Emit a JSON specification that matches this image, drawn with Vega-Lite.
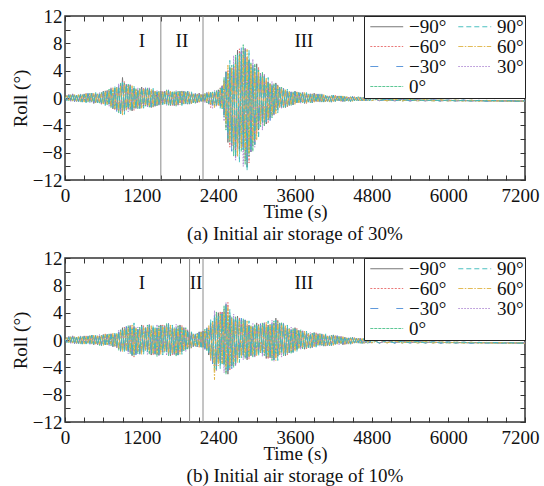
{
"$schema": "https://vega.github.io/schema/vega-lite/v6.json",
"padding": {"left": 10, "top": 6, "right": 2, "bottom": 0},
"spacing": 3,
"resolve": {"scale": {"color": "independent", "strokeDash": "independent"}, "legend": {"color": "independent", "strokeDash": "independent"}},
"config": {
  "font": "Liberation Serif",
  "view": {"stroke": "#333", "strokeWidth": 1.5},
  "axis": {"labelFont": "Liberation Serif", "labelFontSize": 19, "labelColor": "#111", "titleFont": "Liberation Serif", "titleFontSize": 19, "titleFontWeight": "normal", "titleColor": "#111", "grid": false, "domain": false, "tickColor": "#333", "tickWidth": 1},
  "legend": {"orient": "top-right", "offset": 0, "title": null, "columns": 2, "fillColor": "white", "strokeColor": "#222", "padding": 1, "labelFont": "Liberation Serif", "labelFontSize": 19, "labelColor": "#111", "symbolType": "M-0.6,0H4.1", "symbolSize": 196, "symbolStrokeWidth": 1.2, "labelOffset": 25, "columnPadding": 6, "rowPadding": -1},
  "title": {"font": "Liberation Serif", "fontSize": 19, "fontWeight": "normal", "color": "#111"}
},
"datasets": {
"pa": [
{"t":0,"a":0.1,"b":-0.1,"c":0.1,"d":-0.1,"e":0.1,"f":-0.1,"g":0.1},
{"t":30,"a":-0.3,"b":0.4,"c":-0.3,"d":0.4,"e":-0.3,"f":0.3,"g":-0.4},
{"t":60,"a":0.5,"b":-0.4,"c":0.5,"d":-0.4,"e":0.5,"f":-0.4,"g":0.4},
{"t":90,"a":-0.4,"b":0.5,"c":-0.4,"d":0.5,"e":-0.5,"f":0.4,"g":-0.4},
{"t":120,"a":0.6,"b":-0.5,"c":0.5,"d":-0.5,"e":0.6,"f":-0.4,"g":0.6},
{"t":150,"a":-0.5,"b":0.4,"c":-0.5,"d":0.4,"e":-0.4,"f":0.5,"g":-0.5},
{"t":180,"a":0.4,"b":-0.5,"c":0.4,"d":-0.5,"e":0.4,"f":-0.4,"g":0.5},
{"t":210,"a":-0.5,"b":0.4,"c":-0.6,"d":0.5,"e":-0.5,"f":0.5,"g":-0.5},
{"t":240,"a":0.4,"b":-0.5,"c":0.5,"d":-0.6,"e":0.6,"f":-0.5,"g":0.5},
{"t":270,"a":-0.6,"b":0.5,"c":-0.5,"d":0.5,"e":-0.6,"f":0.4,"g":-0.6},
{"t":300,"a":0.6,"b":-0.5,"c":0.5,"d":-0.4,"e":0.5,"f":-0.6,"g":0.5},
{"t":330,"a":-0.6,"b":0.7,"c":-0.5,"d":0.6,"e":-0.5,"f":0.6,"g":-0.7},
{"t":360,"a":0.6,"b":-0.5,"c":0.7,"d":-0.6,"e":0.6,"f":-0.5,"g":0.6},
{"t":390,"a":-0.5,"b":0.6,"c":-0.6,"d":0.7,"e":-0.7,"f":0.6,"g":-0.5},
{"t":420,"a":0.7,"b":-0.6,"c":0.5,"d":-0.6,"e":0.7,"f":-0.5,"g":0.7},
{"t":450,"a":-0.8,"b":0.6,"c":-0.7,"d":0.6,"e":-0.7,"f":0.8,"g":-0.7},
{"t":480,"a":0.6,"b":-0.8,"c":0.6,"d":-0.7,"e":0.6,"f":-0.7,"g":0.8},
{"t":510,"a":-0.7,"b":0.6,"c":-0.8,"d":0.6,"e":-0.7,"f":0.6,"g":-0.7},
{"t":540,"a":0.6,"b":-0.7,"c":0.6,"d":-0.8,"e":0.8,"f":-0.6,"g":0.6},
{"t":570,"a":-0.9,"b":0.8,"c":-0.7,"d":0.8,"e":-0.9,"f":0.6,"g":-0.9},
{"t":600,"a":1.0,"b":-0.8,"c":0.9,"d":-0.7,"e":0.9,"f":-1.0,"g":0.9},
{"t":630,"a":-0.9,"b":1.1,"c":-0.8,"d":1.0,"e":-0.8,"f":0.9,"g":-1.1},
{"t":660,"a":1.1,"b":-0.8,"c":1.2,"d":-1.0,"e":1.1,"f":-0.9,"g":1.0},
{"t":690,"a":-0.9,"b":1.2,"c":-1.0,"d":1.3,"e":-1.2,"f":1.0,"g":-1.0},
{"t":720,"a":1.4,"b":-1.3,"c":1.1,"d":-1.4,"e":1.5,"f":-1.1,"g":1.4},
{"t":750,"a":-1.6,"b":1.3,"c":-1.4,"d":1.1,"e":-1.4,"f":1.5,"g":-1.4},
{"t":780,"a":1.4,"b":-1.8,"c":1.3,"d":-1.6,"e":1.4,"f":-1.5,"g":1.8},
{"t":810,"a":-1.8,"b":1.4,"c":-2.0,"d":1.6,"e":-1.8,"f":1.5,"g":-1.7},
{"t":840,"a":1.5,"b":-2.0,"c":1.8,"d":-2.2,"e":2.1,"f":-1.8,"g":1.7},
{"t":870,"a":-2.3,"b":2.0,"c":-1.8,"d":2.2,"e":-2.4,"f":1.7,"g":-2.3},
{"t":900,"a":3.0,"b":-2.1,"c":2.3,"d":-1.8,"e":2.2,"f":-2.5,"g":2.3},
{"t":930,"a":-1.9,"b":2.4,"c":-1.7,"d":2.2,"e":-1.8,"f":2.0,"g":-2.4},
{"t":960,"a":2.0,"b":-1.5,"c":2.2,"d":-1.8,"e":2.0,"f":-1.7,"g":1.9},
{"t":990,"a":-1.5,"b":1.9,"c":-1.7,"d":2.1,"e":-2.0,"f":1.7,"g":-1.6},
{"t":1020,"a":1.9,"b":-1.7,"c":1.5,"d":-1.8,"e":2.0,"f":-1.4,"g":1.9},
{"t":1050,"a":-1.9,"b":1.5,"c":-1.7,"d":1.3,"e":-1.6,"f":1.8,"g":-1.7},
{"t":1080,"a":1.4,"b":-1.8,"c":1.3,"d":-1.6,"e":1.4,"f":-1.5,"g":1.8},
{"t":1110,"a":-1.5,"b":1.2,"c":-1.7,"d":1.4,"e":-1.5,"f":1.3,"g":-1.4},
{"t":1140,"a":1.1,"b":-1.4,"c":1.3,"d":-1.6,"e":1.5,"f":-1.3,"g":1.2},
{"t":1170,"a":-1.5,"b":1.4,"c":-1.2,"d":1.4,"e":-1.6,"f":1.1,"g":-1.5},
{"t":1200,"a":1.6,"b":-1.3,"c":1.4,"d":-1.1,"e":1.4,"f":-1.5,"g":1.4},
{"t":1230,"a":-1.2,"b":1.5,"c":-1.1,"d":1.4,"e":-1.1,"f":1.3,"g":-1.5},
{"t":1260,"a":1.4,"b":-1.1,"c":1.5,"d":-1.2,"e":1.4,"f":-1.1,"g":1.3},
{"t":1290,"a":-1.1,"b":1.4,"c":-1.2,"d":1.5,"e":-1.4,"f":1.2,"g":-1.1},
{"t":1320,"a":1.4,"b":-1.3,"c":1.1,"d":-1.4,"e":1.5,"f":-1.1,"g":1.4},
{"t":1350,"a":-1.4,"b":1.1,"c":-1.3,"d":1.0,"e":-1.2,"f":1.3,"g":-1.3},
{"t":1380,"a":1.1,"b":-1.4,"c":1.0,"d":-1.3,"e":1.1,"f":-1.2,"g":1.4},
{"t":1410,"a":-1.2,"b":0.9,"c":-1.3,"d":1.0,"e":-1.2,"f":1.0,"g":-1.1},
{"t":1440,"a":0.8,"b":-1.1,"c":1.0,"d":-1.2,"e":1.1,"f":-1.0,"g":0.9},
{"t":1470,"a":-1.0,"b":0.9,"c":-0.8,"d":1.0,"e":-1.1,"f":0.8,"g":-1.0},
{"t":1500,"a":1.0,"b":-0.8,"c":0.9,"d":-0.7,"e":0.9,"f":-1.0,"g":0.9},
{"t":1530,"a":-0.8,"b":1.0,"c":-0.7,"d":0.9,"e":-0.8,"f":0.9,"g":-1.0},
{"t":1560,"a":1.0,"b":-0.8,"c":1.1,"d":-0.9,"e":1.0,"f":-0.8,"g":0.9},
{"t":1590,"a":-0.8,"b":1.1,"c":-1.0,"d":1.2,"e":-1.1,"f":1.0,"g":-0.9},
{"t":1620,"a":1.1,"b":-1.0,"c":0.9,"d":-1.1,"e":1.2,"f":-0.8,"g":1.1},
{"t":1650,"a":-1.1,"b":0.9,"c":-1.0,"d":0.8,"e":-0.9,"f":1.0,"g":-1.0},
{"t":1680,"a":0.9,"b":-1.1,"c":0.8,"d":-1.0,"e":0.8,"f":-0.9,"g":1.1},
{"t":1710,"a":-1.1,"b":0.8,"c":-1.2,"d":1.0,"e":-1.1,"f":0.9,"g":-1.0},
{"t":1740,"a":0.8,"b":-1.1,"c":1.0,"d":-1.2,"e":1.1,"f":-1.0,"g":0.9},
{"t":1770,"a":-1.0,"b":0.9,"c":-0.8,"d":1.0,"e":-1.1,"f":0.8,"g":-1.0},
{"t":1800,"a":1.0,"b":-0.8,"c":0.9,"d":-0.7,"e":0.9,"f":-1.0,"g":0.9},
{"t":1830,"a":-0.9,"b":1.1,"c":-0.8,"d":1.0,"e":-0.8,"f":0.9,"g":-1.1},
{"t":1860,"a":1.0,"b":-0.8,"c":1.1,"d":-0.9,"e":1.0,"f":-0.8,"g":0.9},
{"t":1890,"a":-0.7,"b":0.9,"c":-0.8,"d":1.0,"e":-1.0,"f":0.8,"g":-0.8},
{"t":1920,"a":1.0,"b":-0.9,"c":0.8,"d":-0.9,"e":1.0,"f":-0.7,"g":1.0},
{"t":1950,"a":-0.9,"b":0.7,"c":-0.8,"d":0.6,"e":-0.8,"f":0.9,"g":-0.8},
{"t":1980,"a":0.7,"b":-0.9,"c":0.6,"d":-0.8,"e":0.7,"f":-0.8,"g":0.9},
{"t":2010,"a":-0.7,"b":0.6,"c":-0.8,"d":0.6,"e":-0.7,"f":0.6,"g":-0.7},
{"t":2040,"a":0.6,"b":-0.7,"c":0.6,"d":-0.8,"e":0.8,"f":-0.6,"g":0.6},
{"t":2070,"a":-0.7,"b":0.6,"c":-0.5,"d":0.6,"e":-0.7,"f":0.5,"g":-0.7},
{"t":2100,"a":0.7,"b":-0.6,"c":0.6,"d":-0.5,"e":0.6,"f":-0.7,"g":0.6},
{"t":2130,"a":-0.5,"b":0.6,"c":-0.4,"d":0.5,"e":-0.5,"f":0.5,"g":-0.6},
{"t":2160,"a":0.5,"b":-0.4,"c":0.6,"d":-0.5,"e":0.5,"f":-0.5,"g":0.5},
{"t":2190,"a":-0.5,"b":0.6,"c":-0.6,"d":0.7,"e":-0.7,"f":0.6,"g":-0.5},
{"t":2220,"a":0.8,"b":-0.7,"c":0.6,"d":-0.7,"e":0.8,"f":-0.6,"g":0.8},
{"t":2250,"a":-0.9,"b":0.7,"c":-0.8,"d":0.6,"e":-0.8,"f":0.9,"g":-0.8},
{"t":2280,"a":0.8,"b":-1.4,"c":0.7,"d":-0.9,"e":0.8,"f":-0.9,"g":1.0},
{"t":2310,"a":-1.0,"b":0.8,"c":-1.1,"d":0.9,"e":-1.5,"f":0.8,"g":-1.0},
{"t":2340,"a":0.8,"b":-1.1,"c":1.0,"d":-1.2,"e":1.1,"f":-1.4,"g":0.9},
{"t":2370,"a":-1.1,"b":1.0,"c":-0.9,"d":1.1,"e":-1.2,"f":0.8,"g":-1.1},
{"t":2400,"a":1.2,"b":-1.0,"c":1.1,"d":-0.8,"e":1.0,"f":-1.1,"g":1.1},
{"t":2430,"a":-1.2,"b":1.5,"c":-1.1,"d":1.4,"e":-1.1,"f":1.3,"g":-1.5},
{"t":2460,"a":1.8,"b":-1.4,"c":2.0,"d":-1.6,"e":1.8,"f":-1.5,"g":1.7},
{"t":2490,"a":-2.5,"b":2.7,"c":-2.9,"d":3.0,"e":-3.4,"f":2.4,"g":-2.7},
{"t":2520,"a":3.8,"b":-4.4,"c":3.0,"d":-4.7,"e":4.0,"f":-3.6,"g":3.8},
{"t":2550,"a":-6.5,"b":4.0,"c":-5.9,"d":3.5,"e":-5.5,"f":4.8,"g":-5.9},
{"t":2580,"a":4.4,"b":-7.2,"c":3.9,"d":-6.4,"e":4.1,"f":-6.1,"g":5.5},
{"t":2610,"a":-7.0,"b":4.2,"c":-7.8,"d":4.8,"e":-7.0,"f":4.5,"g":-6.6},
{"t":2640,"a":4.6,"b":-7.6,"c":5.2,"d":-8.5,"e":6.2,"f":-6.8,"g":4.9},
{"t":2670,"a":-8.6,"b":6.0,"c":-6.8,"d":6.3,"e":-9.1,"f":4.9,"g":-8.6},
{"t":2700,"a":7.0,"b":-7.3,"c":6.3,"d":-6.4,"e":6.0,"f":-8.6,"g":6.3},
{"t":2730,"a":-7.5,"b":7.2,"c":-6.6,"d":6.5,"e":-7.0,"f":6.1,"g":-9.4},
{"t":2760,"a":6.8,"b":-6.8,"c":7.5,"d":-7.8,"e":6.8,"f":-7.3,"g":6.4},
{"t":2790,"a":-7.1,"b":7.0,"c":-8.4,"d":7.8,"e":-10.0,"f":6.2,"g":-7.6},
{"t":2820,"a":7.2,"b":-9.2,"c":6.0,"d":-9.7,"e":7.4,"f":-7.6,"g":7.0},
{"t":2850,"a":-10.1,"b":6.0,"c":-9.1,"d":5.3,"e":-8.6,"f":7.1,"g":-10.6},
{"t":2880,"a":5.6,"b":-9.5,"c":4.9,"d":-8.5,"e":5.3,"f":-8.0,"g":7.0},
{"t":2910,"a":-7.9,"b":4.6,"c":-8.8,"d":5.2,"e":-7.9,"f":4.9,"g":-7.5},
{"t":2940,"a":4.2,"b":-7.0,"c":4.8,"d":-7.8,"e":5.7,"f":-6.2,"g":4.5},
{"t":2970,"a":-6.8,"b":4.7,"c":-5.4,"d":5.0,"e":-7.2,"f":3.9,"g":-6.8},
{"t":3000,"a":5.0,"b":-5.2,"c":4.5,"d":-4.6,"e":4.3,"f":-6.2,"g":4.5},
{"t":3030,"a":-4.7,"b":4.5,"c":-4.1,"d":4.1,"e":-4.4,"f":3.8,"g":-5.9},
{"t":3060,"a":3.6,"b":-3.6,"c":4.0,"d":-4.2,"e":3.6,"f":-3.9,"g":3.4},
{"t":3090,"a":-3.4,"b":3.4,"c":-4.0,"d":3.8,"e":-4.7,"f":3.0,"g":-3.7},
{"t":3120,"a":3.3,"b":-3.9,"c":2.6,"d":-4.1,"e":3.5,"f":-3.2,"g":3.3},
{"t":3150,"a":-3.8,"b":2.6,"c":-3.5,"d":2.2,"e":-3.3,"f":3.0,"g":-3.5},
{"t":3180,"a":2.4,"b":-3.6,"c":2.1,"d":-3.2,"e":2.3,"f":-3.0,"g":3.0},
{"t":3210,"a":-2.9,"b":2.0,"c":-3.3,"d":2.2,"e":-2.9,"f":2.1,"g":-2.7},
{"t":3240,"a":1.8,"b":-2.6,"c":2.0,"d":-2.9,"e":2.4,"f":-2.3,"g":1.9},
{"t":3270,"a":-2.4,"b":2.0,"c":-1.9,"d":2.1,"e":-2.6,"f":1.6,"g":-2.4},
{"t":3300,"a":2.2,"b":-2.0,"c":2.0,"d":-1.7,"e":1.9,"f":-2.3,"g":2.0},
{"t":3330,"a":-1.7,"b":2.0,"c":-1.5,"d":1.8,"e":-1.6,"f":1.7,"g":-2.2},
{"t":3360,"a":1.6,"b":-1.3,"c":1.8,"d":-1.4,"e":1.6,"f":-1.4,"g":1.5},
{"t":3390,"a":-1.2,"b":1.4,"c":-1.4,"d":1.6,"e":-1.6,"f":1.3,"g":-1.3},
{"t":3420,"a":1.4,"b":-1.3,"c":1.1,"d":-1.4,"e":1.5,"f":-1.1,"g":1.4},
{"t":3450,"a":-1.4,"b":1.1,"c":-1.3,"d":1.0,"e":-1.2,"f":1.3,"g":-1.3},
{"t":3480,"a":1.0,"b":-1.3,"c":0.9,"d":-1.2,"e":1.0,"f":-1.1,"g":1.3},
{"t":3510,"a":-1.1,"b":0.8,"c":-1.2,"d":1.0,"e":-1.1,"f":0.9,"g":-1.0},
{"t":3540,"a":0.8,"b":-1.0,"c":0.9,"d":-1.1,"e":1.0,"f":-0.9,"g":0.8},
{"t":3570,"a":-1.0,"b":0.9,"c":-0.8,"d":0.9,"e":-1.0,"f":0.7,"g":-1.0},
{"t":3600,"a":1.0,"b":-0.8,"c":0.9,"d":-0.7,"e":0.9,"f":-1.0,"g":0.9},
{"t":3630,"a":-0.7,"b":0.9,"c":-0.6,"d":0.8,"e":-0.7,"f":0.8,"g":-0.9},
{"t":3660,"a":0.8,"b":-0.6,"c":0.9,"d":-0.7,"e":0.8,"f":-0.7,"g":0.8},
{"t":3690,"a":-0.6,"b":0.7,"c":-0.6,"d":0.8,"e":-0.8,"f":0.6,"g":-0.6},
{"t":3720,"a":0.8,"b":-0.7,"c":0.6,"d":-0.7,"e":0.8,"f":-0.6,"g":0.8},
{"t":3750,"a":-0.8,"b":0.6,"c":-0.7,"d":0.6,"e":-0.7,"f":0.8,"g":-0.7},
{"t":3780,"a":0.6,"b":-0.8,"c":0.6,"d":-0.7,"e":0.6,"f":-0.7,"g":0.8},
{"t":3810,"a":-0.6,"b":0.5,"c":-0.7,"d":0.6,"e":-0.6,"f":0.5,"g":-0.6},
{"t":3840,"a":0.5,"b":-0.6,"c":0.6,"d":-0.7,"e":0.7,"f":-0.6,"g":0.5},
{"t":3870,"a":-0.7,"b":0.6,"c":-0.5,"d":0.6,"e":-0.7,"f":0.5,"g":-0.7},
{"t":3900,"a":0.7,"b":-0.6,"c":0.6,"d":-0.5,"e":0.6,"f":-0.7,"g":0.6},
{"t":3930,"a":-0.5,"b":0.6,"c":-0.4,"d":0.5,"e":-0.5,"f":0.5,"g":-0.6},
{"t":3960,"a":0.5,"b":-0.5,"c":0.6,"d":-0.5,"e":0.5,"f":-0.5,"g":0.5},
{"t":3990,"a":-0.5,"b":0.5,"c":-0.5,"d":0.6,"e":-0.6,"f":0.4,"g":-0.5},
{"t":4020,"a":0.5,"b":-0.6,"c":0.4,"d":-0.6,"e":0.6,"f":-0.5,"g":0.5},
{"t":4050,"a":-0.6,"b":0.4,"c":-0.5,"d":0.3,"e":-0.5,"f":0.5,"g":-0.5},
{"t":4080,"a":0.3,"b":-0.6,"c":0.3,"d":-0.5,"e":0.3,"f":-0.5,"g":0.4},
{"t":4110,"a":-0.5,"b":0.3,"c":-0.6,"d":0.3,"e":-0.5,"f":0.3,"g":-0.5},
{"t":4140,"a":0.3,"b":-0.5,"c":0.3,"d":-0.6,"e":0.4,"f":-0.5,"g":0.3},
{"t":4170,"a":-0.6,"b":0.3,"c":-0.5,"d":0.4,"e":-0.6,"f":0.3,"g":-0.6},
{"t":4200,"a":0.4,"b":-0.5,"c":0.4,"d":-0.4,"e":0.3,"f":-0.6,"g":0.4},
{"t":4230,"a":-0.5,"b":0.4,"c":-0.4,"d":0.3,"e":-0.4,"f":0.3,"g":-0.5},
{"t":4260,"a":0.3,"b":-0.4,"c":0.3,"d":-0.4,"e":0.3,"f":-0.4,"g":0.3},
{"t":4290,"a":-0.4,"b":0.3,"c":-0.4,"d":0.3,"e":-0.5,"f":0.2,"g":-0.4},
{"t":4320,"a":0.3,"b":-0.5,"c":0.2,"d":-0.5,"e":0.3,"f":-0.4,"g":0.3},
{"t":4350,"a":-0.5,"b":0.2,"c":-0.5,"d":0.2,"e":-0.4,"f":0.3,"g":-0.5},
{"t":4380,"a":0.2,"b":-0.5,"c":0.2,"d":-0.5,"e":0.2,"f":-0.4,"g":0.3},
{"t":4410,"a":-0.4,"b":0.1,"c":-0.5,"d":0.2,"e":-0.4,"f":0.2,"g":-0.4},
{"t":4440,"a":0.1,"b":-0.4,"c":0.2,"d":-0.5,"e":0.2,"f":-0.4,"g":0.1},
{"t":4470,"a":-0.5,"b":0.2,"c":-0.4,"d":0.2,"e":-0.5,"f":0.1,"g":-0.5},
{"t":4500,"a":0.2,"b":-0.4,"c":0.2,"d":-0.4,"e":0.2,"f":-0.5,"g":0.2},
{"t":4530,"a":-0.4,"b":0.2,"c":-0.3,"d":0.1,"e":-0.4,"f":0.1,"g":-0.4},
{"t":4560,"a":0.1,"b":-0.3,"c":0.2,"d":-0.4,"e":0.1,"f":-0.4,"g":0.1},
{"t":4590,"a":-0.4,"b":0.1,"c":-0.4,"d":0.2,"e":-0.4,"f":0.1,"g":-0.4},
{"t":4620,"a":0.1,"b":-0.4,"c":0.1,"d":-0.4,"e":0.2,"f":-0.4,"g":0.1},
{"t":4650,"a":-0.4,"b":0.1,"c":-0.4,"d":0.1,"e":-0.4,"f":0.1,"g":-0.4},
{"t":4680,"a":0.1,"b":-0.45,"c":0.05,"d":-0.4,"e":0.1,"f":-0.4,"g":0.15},
{"t":4710,"a":-0.4,"b":0.05,"c":-0.4,"d":0.05,"e":-0.4,"f":0.05,"g":-0.35},
{"t":4740,"a":0.0,"b":-0.4,"c":0.05,"d":-0.4,"e":0.1,"f":-0.35,"g":0.0},
{"t":4770,"a":-0.4,"b":0.05,"c":-0.35,"d":0.05,"e":-0.4,"f":0.0,"g":-0.4},
{"t":4800,"a":0.1,"b":-0.36,"c":0.06,"d":-0.34,"e":0.05,"f":-0.4,"g":0.06},
{"t":4920,"a":-0.4,"b":-0.1,"c":-0.4,"d":-0.1,"e":-0.4,"f":-0.1,"g":-0.4},
{"t":5040,"a":-0.13,"b":-0.41,"c":-0.13,"d":-0.41,"e":-0.13,"f":-0.41,"g":-0.13},
{"t":5160,"a":-0.42,"b":-0.16,"c":-0.42,"d":-0.16,"e":-0.42,"f":-0.16,"g":-0.42},
{"t":5280,"a":-0.18,"b":-0.42,"c":-0.18,"d":-0.42,"e":-0.18,"f":-0.42,"g":-0.18},
{"t":5400,"a":-0.42,"b":-0.2,"c":-0.42,"d":-0.2,"e":-0.42,"f":-0.2,"g":-0.42},
{"t":5520,"a":-0.22,"b":-0.42,"c":-0.22,"d":-0.42,"e":-0.22,"f":-0.42,"g":-0.22},
{"t":5640,"a":-0.42,"b":-0.24,"c":-0.42,"d":-0.24,"e":-0.42,"f":-0.24,"g":-0.42},
{"t":5760,"a":-0.26,"b":-0.42,"c":-0.26,"d":-0.42,"e":-0.26,"f":-0.42,"g":-0.26},
{"t":5880,"a":-0.43,"b":-0.27,"c":-0.43,"d":-0.27,"e":-0.43,"f":-0.27,"g":-0.43},
{"t":6000,"a":-0.29,"b":-0.43,"c":-0.29,"d":-0.43,"e":-0.29,"f":-0.43,"g":-0.29},
{"t":6120,"a":-0.44,"b":-0.3,"c":-0.44,"d":-0.3,"e":-0.44,"f":-0.3,"g":-0.44},
{"t":6240,"a":-0.32,"b":-0.44,"c":-0.32,"d":-0.44,"e":-0.32,"f":-0.44,"g":-0.32},
{"t":6360,"a":-0.45,"b":-0.33,"c":-0.45,"d":-0.33,"e":-0.45,"f":-0.33,"g":-0.45},
{"t":6480,"a":-0.35,"b":-0.45,"c":-0.35,"d":-0.45,"e":-0.35,"f":-0.45,"g":-0.35},
{"t":6600,"a":-0.45,"b":-0.35,"c":-0.45,"d":-0.35,"e":-0.45,"f":-0.35,"g":-0.45},
{"t":6720,"a":-0.36,"b":-0.46,"c":-0.36,"d":-0.46,"e":-0.36,"f":-0.46,"g":-0.36},
{"t":6840,"a":-0.46,"b":-0.38,"c":-0.46,"d":-0.38,"e":-0.46,"f":-0.38,"g":-0.46},
{"t":6960,"a":-0.39,"b":-0.47,"c":-0.39,"d":-0.47,"e":-0.39,"f":-0.47,"g":-0.39},
{"t":7080,"a":-0.47,"b":-0.41,"c":-0.47,"d":-0.41,"e":-0.47,"f":-0.41,"g":-0.47},
{"t":7200,"a":-0.42,"b":-0.48,"c":-0.42,"d":-0.48,"e":-0.42,"f":-0.48,"g":-0.42}
],
"pb": [
{"t":0,"a":0.1,"b":-0.1,"c":0.1,"d":-0.1,"e":0.1,"f":-0.1,"g":0.1},
{"t":30,"a":-0.3,"b":0.4,"c":-0.3,"d":0.4,"e":-0.3,"f":0.3,"g":-0.4},
{"t":60,"a":0.5,"b":-0.4,"c":0.5,"d":-0.4,"e":0.5,"f":-0.4,"g":0.4},
{"t":90,"a":-0.4,"b":0.5,"c":-0.4,"d":0.5,"e":-0.5,"f":0.4,"g":-0.4},
{"t":120,"a":0.6,"b":-0.5,"c":0.5,"d":-0.5,"e":0.6,"f":-0.4,"g":0.6},
{"t":150,"a":-0.5,"b":0.4,"c":-0.5,"d":0.4,"e":-0.4,"f":0.5,"g":-0.5},
{"t":180,"a":0.4,"b":-0.5,"c":0.4,"d":-0.5,"e":0.4,"f":-0.4,"g":0.5},
{"t":210,"a":-0.5,"b":0.4,"c":-0.6,"d":0.5,"e":-0.5,"f":0.5,"g":-0.5},
{"t":240,"a":0.4,"b":-0.5,"c":0.5,"d":-0.6,"e":0.6,"f":-0.5,"g":0.5},
{"t":270,"a":-0.6,"b":0.5,"c":-0.5,"d":0.5,"e":-0.6,"f":0.4,"g":-0.6},
{"t":300,"a":0.6,"b":-0.5,"c":0.5,"d":-0.4,"e":0.5,"f":-0.6,"g":0.5},
{"t":330,"a":-0.5,"b":0.6,"c":-0.4,"d":0.5,"e":-0.5,"f":0.5,"g":-0.6},
{"t":360,"a":0.5,"b":-0.4,"c":0.6,"d":-0.5,"e":0.5,"f":-0.5,"g":0.5},
{"t":390,"a":-0.5,"b":0.6,"c":-0.6,"d":0.7,"e":-0.7,"f":0.6,"g":-0.5},
{"t":420,"a":0.7,"b":-0.6,"c":0.5,"d":-0.6,"e":0.7,"f":-0.5,"g":0.7},
{"t":450,"a":-0.7,"b":0.6,"c":-0.6,"d":0.5,"e":-0.6,"f":0.7,"g":-0.6},
{"t":480,"a":0.6,"b":-0.7,"c":0.5,"d":-0.6,"e":0.5,"f":-0.6,"g":0.7},
{"t":510,"a":-0.7,"b":0.6,"c":-0.8,"d":0.6,"e":-0.7,"f":0.6,"g":-0.7},
{"t":540,"a":0.6,"b":-0.7,"c":0.6,"d":-0.8,"e":0.8,"f":-0.6,"g":0.6},
{"t":570,"a":-0.8,"b":0.7,"c":-0.6,"d":0.7,"e":-0.8,"f":0.6,"g":-0.8},
{"t":600,"a":0.8,"b":-0.6,"c":0.7,"d":-0.6,"e":0.7,"f":-0.8,"g":0.7},
{"t":630,"a":-0.7,"b":0.9,"c":-0.6,"d":0.8,"e":-0.7,"f":0.8,"g":-0.9},
{"t":660,"a":0.8,"b":-0.6,"c":0.9,"d":-0.7,"e":0.8,"f":-0.7,"g":0.8},
{"t":690,"a":-0.6,"b":0.8,"c":-0.7,"d":0.9,"e":-0.9,"f":0.7,"g":-0.7},
{"t":720,"a":0.9,"b":-0.8,"c":0.7,"d":-0.8,"e":0.9,"f":-0.6,"g":0.9},
{"t":750,"a":-1.0,"b":0.8,"c":-0.9,"d":0.7,"e":-0.9,"f":1.0,"g":-0.9},
{"t":780,"a":0.8,"b":-1.0,"c":0.7,"d":-0.9,"e":0.8,"f":-0.9,"g":1.0},
{"t":810,"a":-1.1,"b":0.8,"c":-1.2,"d":1.0,"e":-1.1,"f":0.9,"g":-1.0},
{"t":840,"a":1.1,"b":-1.4,"c":1.2,"d":-1.5,"e":1.4,"f":-1.2,"g":1.1},
{"t":870,"a":-1.6,"b":1.4,"c":-1.3,"d":1.5,"e":-1.7,"f":1.2,"g":-1.6},
{"t":900,"a":1.8,"b":-1.4,"c":1.6,"d":-1.3,"e":1.5,"f":-1.7,"g":1.6},
{"t":930,"a":-1.5,"b":1.9,"c":-1.3,"d":1.7,"e":-1.4,"f":1.6,"g":-1.9},
{"t":960,"a":1.8,"b":-1.4,"c":2.0,"d":-1.6,"e":1.8,"f":-1.5,"g":1.7},
{"t":990,"a":-1.5,"b":1.9,"c":-1.7,"d":2.1,"e":-2.0,"f":1.7,"g":-1.6},
{"t":1020,"a":2.1,"b":-1.9,"c":1.7,"d":-2.0,"e":2.2,"f":-1.5,"g":2.1},
{"t":1050,"a":-2.3,"b":1.8,"c":-2.1,"d":1.6,"e":-2.0,"f":2.2,"g":-2.1},
{"t":1080,"a":2.0,"b":-2.5,"c":1.8,"d":-2.3,"e":1.9,"f":-2.1,"g":2.5},
{"t":1110,"a":-2.0,"b":1.5,"c":-2.2,"d":1.8,"e":-2.0,"f":1.7,"g":-1.9},
{"t":1140,"a":1.4,"b":-1.8,"c":1.6,"d":-2.0,"e":1.9,"f":-1.6,"g":1.5},
{"t":1170,"a":-2.0,"b":1.8,"c":-1.6,"d":1.9,"e":-2.1,"f":1.5,"g":-2.0},
{"t":1200,"a":2.2,"b":-1.8,"c":2.0,"d":-1.5,"e":1.9,"f":-2.1,"g":2.0},
{"t":1230,"a":-1.7,"b":2.1,"c":-1.5,"d":1.9,"e":-1.6,"f":1.8,"g":-2.1},
{"t":1260,"a":1.8,"b":-1.4,"c":2.0,"d":-1.6,"e":1.8,"f":-1.5,"g":1.7},
{"t":1290,"a":-1.5,"b":2.0,"c":-1.8,"d":2.2,"e":-2.1,"f":1.8,"g":-1.7},
{"t":1320,"a":2.2,"b":-2.0,"c":1.7,"d":-2.1,"e":2.3,"f":-1.6,"g":2.2},
{"t":1350,"a":-2.2,"b":1.8,"c":-2.0,"d":1.5,"e":-1.9,"f":2.1,"g":-2.0},
{"t":1380,"a":1.8,"b":-2.2,"c":1.5,"d":-2.0,"e":1.7,"f":-1.9,"g":2.2},
{"t":1410,"a":-2.1,"b":1.6,"c":-2.3,"d":1.8,"e":-2.1,"f":1.7,"g":-2.0},
{"t":1440,"a":1.7,"b":-2.2,"c":1.9,"d":-2.4,"e":2.3,"f":-1.9,"g":1.8},
{"t":1470,"a":-2.2,"b":2.0,"c":-1.7,"d":2.1,"e":-2.3,"f":1.6,"g":-2.2},
{"t":1500,"a":2.2,"b":-1.8,"c":2.0,"d":-1.5,"e":1.9,"f":-2.1,"g":2.0},
{"t":1530,"a":-1.8,"b":2.2,"c":-1.5,"d":2.0,"e":-1.7,"f":1.9,"g":-2.2},
{"t":1560,"a":2.1,"b":-1.6,"c":2.3,"d":-1.8,"e":2.1,"f":-1.7,"g":2.0},
{"t":1590,"a":-1.7,"b":2.2,"c":-1.9,"d":2.4,"e":-2.3,"f":1.9,"g":-1.8},
{"t":1620,"a":2.4,"b":-2.1,"c":1.9,"d":-2.3,"e":2.5,"f":-1.8,"g":2.4},
{"t":1650,"a":-2.3,"b":1.8,"c":-2.1,"d":1.6,"e":-2.0,"f":2.2,"g":-2.1},
{"t":1680,"a":1.8,"b":-2.2,"c":1.5,"d":-2.0,"e":1.7,"f":-1.9,"g":2.2},
{"t":1710,"a":-2.1,"b":1.6,"c":-2.3,"d":1.8,"e":-2.1,"f":1.7,"g":-2.0},
{"t":1740,"a":1.7,"b":-2.2,"c":1.9,"d":-2.4,"e":2.3,"f":-1.9,"g":1.8},
{"t":1770,"a":-2.2,"b":2.0,"c":-1.7,"d":2.1,"e":-2.3,"f":1.6,"g":-2.2},
{"t":1800,"a":2.2,"b":-1.8,"c":2.0,"d":-1.5,"e":1.9,"f":-2.1,"g":2.0},
{"t":1830,"a":-1.7,"b":2.1,"c":-1.5,"d":1.9,"e":-1.6,"f":1.8,"g":-2.1},
{"t":1860,"a":1.8,"b":-1.4,"c":2.0,"d":-1.6,"e":1.8,"f":-1.5,"g":1.7},
{"t":1890,"a":-1.3,"b":1.6,"c":-1.4,"d":1.8,"e":-1.7,"f":1.4,"g":-1.4},
{"t":1920,"a":1.4,"b":-1.3,"c":1.1,"d":-1.4,"e":1.5,"f":-1.1,"g":1.4},
{"t":1950,"a":-1.3,"b":1.0,"c":-1.2,"d":0.9,"e":-1.1,"f":1.2,"g":-1.2},
{"t":1980,"a":1.0,"b":-1.2,"c":0.8,"d":-1.1,"e":0.9,"f":-1.0,"g":1.2},
{"t":2010,"a":-1.0,"b":0.8,"c":-1.1,"d":0.9,"e":-1.0,"f":0.8,"g":-0.9},
{"t":2040,"a":0.7,"b":-0.9,"c":0.8,"d":-1.0,"e":1.0,"f":-0.8,"g":0.8},
{"t":2070,"a":-1.0,"b":0.9,"c":-0.8,"d":1.0,"e":-1.1,"f":0.8,"g":-1.0},
{"t":2100,"a":1.2,"b":-1.0,"c":1.1,"d":-0.8,"e":1.0,"f":-1.1,"g":1.1},
{"t":2130,"a":-1.0,"b":1.3,"c":-0.9,"d":1.2,"e":-1.0,"f":1.1,"g":-1.3},
{"t":2160,"a":1.3,"b":-1.0,"c":1.4,"d":-1.1,"e":1.3,"f":-1.1,"g":1.2},
{"t":2190,"a":-1.1,"b":1.4,"c":-1.3,"d":1.6,"e":-1.5,"f":1.3,"g":-1.2},
{"t":2220,"a":1.7,"b":-1.5,"c":1.4,"d":-1.6,"e":1.8,"f":-1.3,"g":1.7},
{"t":2250,"a":-2.2,"b":1.8,"c":-2.0,"d":1.5,"e":-1.9,"f":2.1,"g":-2.0},
{"t":2280,"a":2.4,"b":-3.0,"c":2.1,"d":-2.7,"e":2.3,"f":-2.6,"g":3.0},
{"t":2310,"a":-3.2,"b":2.5,"c":-3.5,"d":2.8,"e":-3.2,"f":2.6,"g":-3.0},
{"t":2340,"a":3.2,"b":-4.1,"c":3.6,"d":-4.5,"e":4.3,"f":-5.8,"g":3.4},
{"t":2370,"a":-4.3,"b":4.1,"c":-3.4,"d":4.1,"e":-4.5,"f":3.2,"g":-4.3},
{"t":2400,"a":4.0,"b":-3.2,"c":3.6,"d":-2.8,"e":3.4,"f":-3.8,"g":3.6},
{"t":2430,"a":-3.4,"b":4.2,"c":-2.9,"d":3.8,"e":-3.2,"f":3.6,"g":-4.2},
{"t":2460,"a":4.1,"b":-3.2,"c":4.5,"d":-3.6,"e":4.1,"f":-3.4,"g":3.8},
{"t":2490,"a":-3.5,"b":4.5,"c":-4.0,"d":5.0,"e":-4.8,"f":4.0,"g":-3.8},
{"t":2520,"a":5.2,"b":-4.7,"c":4.1,"d":-5.0,"e":5.5,"f":-3.9,"g":5.2},
{"t":2550,"a":-5.0,"b":5.5,"c":-4.5,"d":3.5,"e":-4.3,"f":4.8,"g":-4.5},
{"t":2580,"a":3.6,"b":-4.5,"c":3.2,"d":-4.1,"e":3.4,"f":-3.8,"g":4.5},
{"t":2610,"a":-3.8,"b":2.9,"c":-4.2,"d":3.4,"e":-3.8,"f":3.2,"g":-3.6},
{"t":2640,"a":2.8,"b":-3.6,"c":3.2,"d":-4.0,"e":3.8,"f":-3.2,"g":3.0},
{"t":2670,"a":-3.6,"b":3.2,"c":-2.9,"d":3.4,"e":-3.8,"f":2.7,"g":-3.6},
{"t":2700,"a":3.5,"b":-2.8,"c":3.2,"d":-2.5,"e":3.0,"f":-3.3,"g":3.2},
{"t":2730,"a":-2.6,"b":3.3,"c":-2.3,"d":3.0,"e":-2.5,"f":2.8,"g":-3.3},
{"t":2760,"a":2.9,"b":-2.2,"c":3.2,"d":-2.6,"e":2.9,"f":-2.4,"g":2.7},
{"t":2790,"a":-2.2,"b":2.8,"c":-2.5,"d":3.1,"e":-2.9,"f":2.5,"g":-2.3},
{"t":2820,"a":2.9,"b":-2.6,"c":2.3,"d":-2.7,"e":3.0,"f":-2.1,"g":2.9},
{"t":2850,"a":-2.9,"b":2.3,"c":-2.6,"d":2.0,"e":-2.5,"f":2.8,"g":-2.6},
{"t":2880,"a":2.2,"b":-2.8,"c":2.0,"d":-2.5,"e":2.1,"f":-2.4,"g":2.8},
{"t":2910,"a":-2.3,"b":1.8,"c":-2.6,"d":2.1,"e":-2.3,"f":2.0,"g":-2.2},
{"t":2940,"a":1.8,"b":-2.3,"c":2.0,"d":-2.5,"e":2.4,"f":-2.0,"g":1.9},
{"t":2970,"a":-2.4,"b":2.1,"c":-1.9,"d":2.3,"e":-2.5,"f":1.8,"g":-2.4},
{"t":3000,"a":2.5,"b":-2.0,"c":2.3,"d":-1.8,"e":2.1,"f":-2.4,"g":2.3},
{"t":3030,"a":-1.9,"b":2.4,"c":-1.7,"d":2.2,"e":-1.8,"f":2.0,"g":-2.4},
{"t":3060,"a":2.2,"b":-1.7,"c":2.4,"d":-1.9,"e":2.2,"f":-1.8,"g":2.0},
{"t":3090,"a":-1.8,"b":2.3,"c":-2.0,"d":2.5,"e":-2.4,"f":2.0,"g":-1.9},
{"t":3120,"a":2.5,"b":-2.2,"c":2.0,"d":-2.3,"e":2.6,"f":-1.8,"g":2.5},
{"t":3150,"a":-2.7,"b":2.2,"c":-2.4,"d":1.9,"e":-2.3,"f":2.6,"g":-2.4},
{"t":3180,"a":2.2,"b":-2.8,"c":2.0,"d":-2.5,"e":2.1,"f":-2.4,"g":2.8},
{"t":3210,"a":-2.6,"b":2.0,"c":-2.9,"d":2.3,"e":-2.6,"f":2.2,"g":-2.5},
{"t":3240,"a":2.1,"b":-2.7,"c":2.4,"d":-3.0,"e":2.9,"f":-2.4,"g":2.3},
{"t":3270,"a":-2.9,"b":2.6,"c":-2.3,"d":2.8,"e":-3.1,"f":2.2,"g":-2.9},
{"t":3300,"a":3.2,"b":-2.6,"c":2.9,"d":-2.2,"e":2.7,"f":-3.0,"g":2.9},
{"t":3330,"a":-2.4,"b":3.0,"c":-2.1,"d":2.7,"e":-2.3,"f":2.6,"g":-3.0},
{"t":3360,"a":2.5,"b":-2.0,"c":2.8,"d":-2.2,"e":2.5,"f":-2.1,"g":2.4},
{"t":3390,"a":-1.8,"b":2.3,"c":-2.1,"d":2.6,"e":-2.5,"f":2.1,"g":-2.0},
{"t":3420,"a":2.4,"b":-2.1,"c":1.9,"d":-2.3,"e":2.5,"f":-1.8,"g":2.4},
{"t":3450,"a":-2.3,"b":1.8,"c":-2.1,"d":1.6,"e":-2.0,"f":2.2,"g":-2.1},
{"t":3480,"a":1.8,"b":-2.2,"c":1.5,"d":-2.0,"e":1.7,"f":-1.9,"g":2.2},
{"t":3510,"a":-1.9,"b":1.5,"c":-2.1,"d":1.7,"e":-1.9,"f":1.6,"g":-1.8},
{"t":3540,"a":1.4,"b":-1.8,"c":1.6,"d":-2.0,"e":1.9,"f":-1.6,"g":1.5},
{"t":3570,"a":-1.8,"b":1.6,"c":-1.4,"d":1.7,"e":-1.9,"f":1.3,"g":-1.8},
{"t":3600,"a":1.8,"b":-1.4,"c":1.6,"d":-1.3,"e":1.5,"f":-1.7,"g":1.6},
{"t":3630,"a":-1.4,"b":1.7,"c":-1.2,"d":1.5,"e":-1.3,"f":1.4,"g":-1.7},
{"t":3660,"a":1.4,"b":-1.1,"c":1.6,"d":-1.3,"e":1.4,"f":-1.2,"g":1.4},
{"t":3690,"a":-1.1,"b":1.4,"c":-1.2,"d":1.5,"e":-1.4,"f":1.2,"g":-1.1},
{"t":3720,"a":1.3,"b":-1.2,"c":1.1,"d":-1.3,"e":1.4,"f":-1.0,"g":1.3},
{"t":3750,"a":-1.35,"b":1.1,"c":-1.2,"d":0.9,"e":-1.1,"f":1.3,"g":-1.2},
{"t":3780,"a":1.0,"b":-1.3,"c":0.9,"d":-1.2,"e":1.0,"f":-1.1,"g":1.3},
{"t":3810,"a":-1.1,"b":0.9,"c":-1.25,"d":1.0,"e":-1.1,"f":0.9,"g":-1.1},
{"t":3840,"a":0.8,"b":-1.1,"c":1.0,"d":-1.2,"e":1.1,"f":-1.0,"g":0.9},
{"t":3870,"a":-1.1,"b":1.0,"c":-0.9,"d":1.0,"e":-1.15,"f":0.8,"g":-1.1},
{"t":3900,"a":1.1,"b":-0.9,"c":1.0,"d":-0.8,"e":0.9,"f":-1.0,"g":1.0},
{"t":3930,"a":-0.8,"b":1.05,"c":-0.7,"d":0.9,"e":-0.8,"f":0.9,"g":-1.05},
{"t":3960,"a":0.9,"b":-0.7,"c":1.0,"d":-0.8,"e":0.9,"f":-0.8,"g":0.85},
{"t":3990,"a":-0.7,"b":0.85,"c":-0.8,"d":0.95,"e":-0.9,"f":0.8,"g":-0.7},
{"t":4020,"a":0.85,"b":-0.8,"c":0.7,"d":-0.8,"e":0.9,"f":-0.6,"g":0.85},
{"t":4050,"a":-0.9,"b":0.7,"c":-0.85,"d":0.6,"e":-0.8,"f":0.8,"g":-0.85},
{"t":4080,"a":0.7,"b":-0.9,"c":0.6,"d":-0.85,"e":0.65,"f":-0.8,"g":0.9},
{"t":4110,"a":-0.8,"b":0.55,"c":-0.9,"d":0.65,"e":-0.8,"f":0.6,"g":-0.75},
{"t":4140,"a":0.5,"b":-0.75,"c":0.6,"d":-0.85,"e":0.7,"f":-0.7,"g":0.55},
{"t":4170,"a":-0.8,"b":0.65,"c":-0.65,"d":0.7,"e":-0.85,"f":0.5,"g":-0.8},
{"t":4200,"a":0.75,"b":-0.7,"c":0.65,"d":-0.6,"e":0.65,"f":-0.8,"g":0.65},
{"t":4230,"a":-0.65,"b":0.7,"c":-0.6,"d":0.6,"e":-0.6,"f":0.6,"g":-0.8},
{"t":4260,"a":0.55,"b":-0.55,"c":0.65,"d":-0.6,"e":0.55,"f":-0.6,"g":0.5},
{"t":4290,"a":-0.5,"b":0.5,"c":-0.6,"d":0.6,"e":-0.7,"f":0.45,"g":-0.55},
{"t":4320,"a":0.5,"b":-0.6,"c":0.4,"d":-0.6,"e":0.55,"f":-0.5,"g":0.5},
{"t":4350,"a":-0.7,"b":0.4,"c":-0.6,"d":0.35,"e":-0.6,"f":0.5,"g":-0.6},
{"t":4380,"a":0.4,"b":-0.7,"c":0.35,"d":-0.6,"e":0.4,"f":-0.6,"g":0.5},
{"t":4410,"a":-0.6,"b":0.3,"c":-0.65,"d":0.35,"e":-0.6,"f":0.3,"g":-0.55},
{"t":4440,"a":0.25,"b":-0.55,"c":0.3,"d":-0.6,"e":0.4,"f":-0.5,"g":0.3},
{"t":4470,"a":-0.6,"b":0.35,"c":-0.5,"d":0.35,"e":-0.6,"f":0.25,"g":-0.6},
{"t":4500,"a":0.4,"b":-0.5,"c":0.35,"d":-0.45,"e":0.35,"f":-0.6,"g":0.35},
{"t":4530,"a":-0.45,"b":0.35,"c":-0.4,"d":0.3,"e":-0.45,"f":0.25,"g":-0.55},
{"t":4560,"a":0.25,"b":-0.4,"c":0.3,"d":-0.45,"e":0.25,"f":-0.4,"g":0.25},
{"t":4590,"a":-0.4,"b":0.25,"c":-0.45,"d":0.3,"e":-0.5,"f":0.2,"g":-0.4},
{"t":4620,"a":0.25,"b":-0.45,"c":0.2,"d":-0.5,"e":0.3,"f":-0.4,"g":0.25},
{"t":4650,"a":-0.5,"b":0.2,"c":-0.5,"d":0.15,"e":-0.45,"f":0.25,"g":-0.5},
{"t":4680,"a":0.2,"b":-0.5,"c":0.15,"d":-0.5,"e":0.15,"f":-0.45,"g":0.25},
{"t":4710,"a":-0.45,"b":0.1,"c":-0.5,"d":0.15,"e":-0.45,"f":0.1,"g":-0.45},
{"t":4740,"a":0.1,"b":-0.45,"c":0.15,"d":-0.5,"e":0.2,"f":-0.4,"g":0.1},
{"t":4770,"a":-0.45,"b":0.1,"c":-0.4,"d":0.1,"e":-0.45,"f":0.05,"g":-0.45},
{"t":4800,"a":0.15,"b":-0.4,"c":0.1,"d":-0.35,"e":0.1,"f":-0.45,"g":0.1},
{"t":4920,"a":-0.45,"b":0.0,"c":-0.45,"d":0.0,"e":-0.45,"f":0.0,"g":-0.45},
{"t":5040,"a":-0.08,"b":-0.42,"c":-0.08,"d":-0.42,"e":-0.08,"f":-0.42,"g":-0.08},
{"t":5160,"a":-0.43,"b":-0.12,"c":-0.43,"d":-0.12,"e":-0.43,"f":-0.12,"g":-0.43},
{"t":5280,"a":-0.15,"b":-0.43,"c":-0.15,"d":-0.43,"e":-0.15,"f":-0.43,"g":-0.15},
{"t":5400,"a":-0.43,"b":-0.18,"c":-0.43,"d":-0.18,"e":-0.43,"f":-0.18,"g":-0.43},
{"t":5520,"a":-0.2,"b":-0.43,"c":-0.2,"d":-0.43,"e":-0.2,"f":-0.43,"g":-0.2},
{"t":5640,"a":-0.43,"b":-0.22,"c":-0.43,"d":-0.22,"e":-0.43,"f":-0.22,"g":-0.43},
{"t":5760,"a":-0.25,"b":-0.43,"c":-0.25,"d":-0.43,"e":-0.25,"f":-0.43,"g":-0.25},
{"t":5880,"a":-0.44,"b":-0.27,"c":-0.44,"d":-0.27,"e":-0.44,"f":-0.27,"g":-0.44},
{"t":6000,"a":-0.29,"b":-0.44,"c":-0.29,"d":-0.44,"e":-0.29,"f":-0.44,"g":-0.29},
{"t":6120,"a":-0.44,"b":-0.3,"c":-0.44,"d":-0.3,"e":-0.44,"f":-0.3,"g":-0.44},
{"t":6240,"a":-0.32,"b":-0.44,"c":-0.32,"d":-0.44,"e":-0.32,"f":-0.44,"g":-0.32},
{"t":6360,"a":-0.45,"b":-0.33,"c":-0.45,"d":-0.33,"e":-0.45,"f":-0.33,"g":-0.45},
{"t":6480,"a":-0.35,"b":-0.45,"c":-0.35,"d":-0.45,"e":-0.35,"f":-0.45,"g":-0.35},
{"t":6600,"a":-0.45,"b":-0.36,"c":-0.45,"d":-0.36,"e":-0.45,"f":-0.36,"g":-0.45},
{"t":6720,"a":-0.37,"b":-0.46,"c":-0.37,"d":-0.46,"e":-0.37,"f":-0.46,"g":-0.37},
{"t":6840,"a":-0.46,"b":-0.38,"c":-0.46,"d":-0.38,"e":-0.46,"f":-0.38,"g":-0.46},
{"t":6960,"a":-0.39,"b":-0.47,"c":-0.39,"d":-0.47,"e":-0.39,"f":-0.47,"g":-0.39},
{"t":7080,"a":-0.47,"b":-0.41,"c":-0.47,"d":-0.41,"e":-0.47,"f":-0.41,"g":-0.47},
{"t":7200,"a":-0.42,"b":-0.48,"c":-0.42,"d":-0.48,"e":-0.42,"f":-0.48,"g":-0.42}
]
},
"vconcat": [
{
  "width": 460, "height": 164,
  "title": {"text": "(a) Initial air storage of 30%", "orient": "bottom", "offset": 4},
  "resolve": {"axis": {"x": "independent", "y": "independent"}},
  "layer": [
    {
      "data": {"name": "pa"},
      "transform": [{"fold": ["a","b","c","d","e","f","g"], "as": ["s","v"]}],
      "mark": {"type": "line", "strokeWidth": 1, "opacity": 0.9, "clip": true},
      "encoding": {
        "x": {"field": "t", "type": "quantitative", "title": "Time (s)", "scale": {"domain": [0,7200], "nice": false},
              "axis": {"orient": "bottom", "values": [0,300,600,900,1200,1500,1800,2100,2400,2700,3000,3300,3600,3900,4200,4500,4800,5100,5400,5700,6000,6300,6600,6900,7200], "format": "d", "labelExpr": "datum.value % 1200 === 0 ? datum.label : ''", "labelOffset": {"condition": {"test": "datum.value === 7200", "value": -5}, "value": 0}, "tickSize": -5, "labelPadding": 11, "titlePadding": -3, "labelFlush": false, "labelOverlap": false}},
        "y": {"field": "v", "type": "quantitative", "title": "Roll (°)", "scale": {"domain": [-12,12], "nice": false},
              "axis": {"orient": "left", "values": [-12,-10,-8,-6,-4,-2,0,2,4,6,8,10,12], "labelExpr": "datum.value % 4 === 0 ? datum.label : ''", "tickSize": -5, "labelPadding": 8, "titlePadding": 2, "labelOverlap": false}},
        "color": {"field": "s", "type": "nominal",
                  "scale": {"domain": ["a","b","c","d","g","f","e"], "range": ["#6b6b6b","#e86a6a","#4f8fd8","#4cc28a","#3bbcbc","#e0b445","#a87fd0"]},
                  "legend": {"labelExpr": "{'a':'−90°','b':'−60°','c':'−30°','d':'0°','e':'30°','f':'60°','g':'90°'}[datum.label]"}},
        "strokeDash": {"field": "s", "type": "nominal",
                  "scale": {"domain": ["a","b","c","d","g","f","e"], "range": [[1,0],[2,1.5],[8,18],[3,1],[5,3],[5,1.5,1.5,1.5],[1.5,1.5]]},
                  "legend": {"labelExpr": "{'a':'−90°','b':'−60°','c':'−30°','d':'0°','e':'30°','f':'60°','g':'90°'}[datum.label]"}}
      }
    },
    {
      "data": {"values": [{"t": 1500}, {"t": 2160}]},
      "mark": {"type": "rule", "color": "#8a8a8a", "strokeWidth": 1},
      "encoding": {"x": {"field": "t", "type": "quantitative",
          "axis": {"orient": "top", "title": null, "labels": false, "values": [0,300,600,900,1200,1500,1800,2100,2400,2700,3000,3300,3600,3900,4200,4500,4800,5100,5400,5700,6000,6300,6600,6900,7200], "tickSize": -5}}}
    },
    {
      "data": {"values": [{"t": 1205, "y": 8.3, "l": "I"}, {"t": 1830, "y": 8.3, "l": "II"}, {"t": 3740, "y": 8.3, "l": "III"}]},
      "mark": {"type": "text", "font": "Liberation Serif", "fontSize": 19, "color": "#111"},
      "encoding": {
        "x": {"field": "t", "type": "quantitative", "axis": null},
        "y": {"field": "y", "type": "quantitative", "axis": {"orient": "right", "title": null, "labels": false, "values": [-12,-10,-8,-6,-4,-2,0,2,4,6,8,10,12], "tickSize": -5}},
        "text": {"field": "l"}
      }
    }
  ]
},
{
  "width": 460, "height": 164,
  "title": {"text": "(b) Initial air storage of 10%", "orient": "bottom", "offset": 4},
  "resolve": {"axis": {"x": "independent", "y": "independent"}},
  "layer": [
    {
      "data": {"name": "pb"},
      "transform": [{"fold": ["a","b","c","d","e","f","g"], "as": ["s","v"]}],
      "mark": {"type": "line", "strokeWidth": 1, "opacity": 0.9, "clip": true},
      "encoding": {
        "x": {"field": "t", "type": "quantitative", "title": "Time (s)", "scale": {"domain": [0,7200], "nice": false},
              "axis": {"orient": "bottom", "values": [0,300,600,900,1200,1500,1800,2100,2400,2700,3000,3300,3600,3900,4200,4500,4800,5100,5400,5700,6000,6300,6600,6900,7200], "format": "d", "labelExpr": "datum.value % 1200 === 0 ? datum.label : ''", "labelOffset": {"condition": {"test": "datum.value === 7200", "value": -5}, "value": 0}, "tickSize": -5, "labelPadding": 11, "titlePadding": -3, "labelFlush": false, "labelOverlap": false}},
        "y": {"field": "v", "type": "quantitative", "title": "Roll (°)", "scale": {"domain": [-12,12], "nice": false},
              "axis": {"orient": "left", "values": [-12,-10,-8,-6,-4,-2,0,2,4,6,8,10,12], "labelExpr": "datum.value % 4 === 0 ? datum.label : ''", "tickSize": -5, "labelPadding": 8, "titlePadding": 2, "labelOverlap": false}},
        "color": {"field": "s", "type": "nominal",
                  "scale": {"domain": ["a","b","c","d","g","f","e"], "range": ["#6b6b6b","#e86a6a","#4f8fd8","#4cc28a","#3bbcbc","#e0b445","#a87fd0"]},
                  "legend": {"labelExpr": "{'a':'−90°','b':'−60°','c':'−30°','d':'0°','e':'30°','f':'60°','g':'90°'}[datum.label]"}},
        "strokeDash": {"field": "s", "type": "nominal",
                  "scale": {"domain": ["a","b","c","d","g","f","e"], "range": [[1,0],[2,1.5],[8,18],[3,1],[5,3],[5,1.5,1.5,1.5],[1.5,1.5]]},
                  "legend": {"labelExpr": "{'a':'−90°','b':'−60°','c':'−30°','d':'0°','e':'30°','f':'60°','g':'90°'}[datum.label]"}}
      }
    },
    {
      "data": {"values": [{"t": 1950}, {"t": 2160}]},
      "mark": {"type": "rule", "color": "#8a8a8a", "strokeWidth": 1},
      "encoding": {"x": {"field": "t", "type": "quantitative",
          "axis": {"orient": "top", "title": null, "labels": false, "values": [0,300,600,900,1200,1500,1800,2100,2400,2700,3000,3300,3600,3900,4200,4500,4800,5100,5400,5700,6000,6300,6600,6900,7200], "tickSize": -5}}}
    },
    {
      "data": {"values": [{"t": 1205, "y": 8.3, "l": "I"}, {"t": 2050, "y": 8.3, "l": "II"}, {"t": 3740, "y": 8.3, "l": "III"}]},
      "mark": {"type": "text", "font": "Liberation Serif", "fontSize": 19, "color": "#111"},
      "encoding": {
        "x": {"field": "t", "type": "quantitative", "axis": null},
        "y": {"field": "y", "type": "quantitative", "axis": {"orient": "right", "title": null, "labels": false, "values": [-12,-10,-8,-6,-4,-2,0,2,4,6,8,10,12], "tickSize": -5}},
        "text": {"field": "l"}
      }
    }
  ]
}
]
}
